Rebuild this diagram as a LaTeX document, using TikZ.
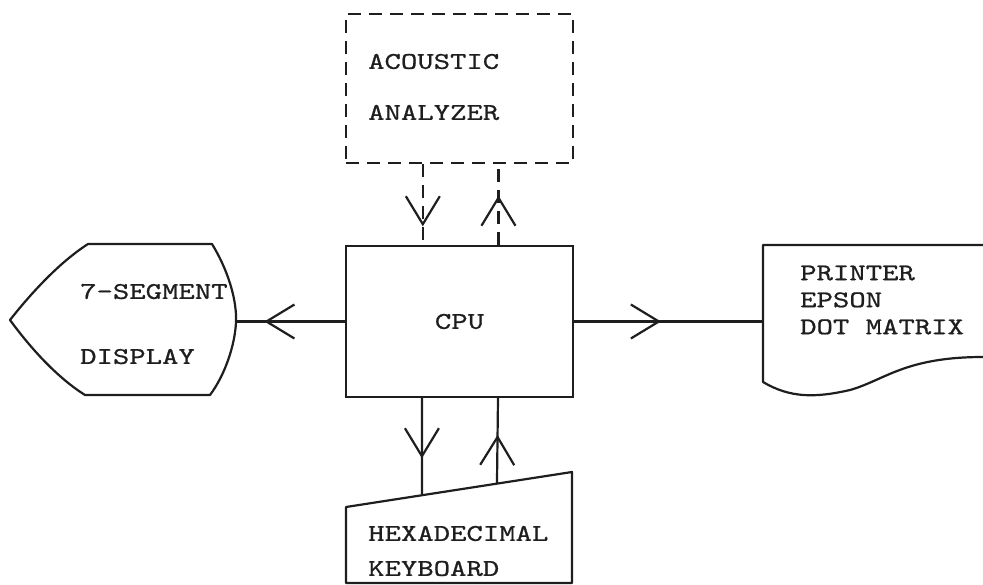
\documentclass[tikz,border=0pt]{standalone}
\usepackage{fontspec}
\setmonofont{lmmono10-regular.otf}[FakeStretch=1.3,FakeBold=0.8]
\usetikzlibrary{arrows.meta,calc,decorations.markings,positioning}
\definecolor{inkgrey}{RGB}{30,30,30}
\tikzset{
  unit/.style={draw=inkgrey,line width=2.2pt,minimum width=227pt,inner sep=0pt,
    font=\ttfamily\fontsize{24}{28}\selectfont,text=inkgrey},
  optional/.style={unit,dash pattern=on 13pt off 8pt},
  outline/.style={draw=inkgrey,line width=2.2pt,line join=round},
  typed/.style={font=\ttfamily\fontsize{24}{#1}\selectfont,align=left,
    inner sep=0pt,text=inkgrey,anchor=west},
  typed/.default=28,
  flow/.style={draw=inkgrey,line width=2.2pt,postaction={decorate},
    decoration={markings,mark=at position #1 with
      {\arrow[solid]{Straight Barb[length=28pt,width=34pt]}}}},
  dashflow/.style={flow=#1,dash pattern=on 13pt off 8pt}
}

\begin{document}
\begin{tikzpicture}[x=1pt,y=-1pt]
  \useasboundingbox (0,0) rectangle (983,584);
  % boxes
  \node[optional,minimum height=149pt] (acoustic) at (459.5,88.5) {};
  \node[unit,minimum height=151pt] (cpu) at (459.5,321.5) {CPU};
  % display
  \draw[outline] (88,244) -- (212,244)
    .. controls (228,270) and (237,300) .. (236,322)
    .. controls (235,345) and (225,375) .. (210,395) -- (85,395)
    .. controls (58,378) and (32,350) .. (10,320)
    .. controls (32,292) and (60,262) .. (88,244) -- cycle;
  \coordinate (dispport) at (236,321.5);
  % printer
  \draw[outline] (983,245) -- (763,245) -- (763,382)
    .. controls (790,398) and (815,398) .. (850,390)
    .. controls (885,380) and (905,357) .. (983,357);
  \coordinate (prnport) at (763,321.5);
  % keyboard
  \coordinate (kbl) at (346,507);
  \coordinate (kbr) at (572,472);
  \draw[outline] (kbl) -- (kbr) -- (kbr |- 0,583) -- (kbl |- 0,583) -- cycle;
  % texts
  \node[typed=51] (acoustictext) at (368,87) {ACOUSTIC\\ANALYZER};
  \node[typed=65] (displaytext) at (80,324) {7-SEGMENT\\DISPLAY};
  \node[typed=27] (printertext) at (800,300) {PRINTER\\EPSON\\DOT MATRIX};
  \node[typed=35] (keyboardtext) at (368,551) {HEXADECIMAL\\KEYBOARD};
  % connectors
  \draw[dashflow=0.77] ($(acoustic.south west)!0.34!(acoustic.south east)$)
    -- ($(cpu.north west)!0.34!(cpu.north east)$);
  \draw[dashflow=0.61] ($(cpu.north west)!0.67!(cpu.north east)$)
    -- ($(acoustic.south west)!0.67!(acoustic.south east)$);
  \draw[flow=0.74] (cpu.west) -- (dispport);
  \draw[flow=0.46] (cpu.east) -- (prnport);
  \draw[flow=0.62] ($(cpu.south west)!0.336!(cpu.south east)$)
    -- ($(kbl)!0.336!(kbr)$);
  \draw[flow=0.57] ($(kbl)!0.668!(kbr)$)
    -- ($(cpu.south west)!0.668!(cpu.south east)$);
\end{tikzpicture}
\end{document}
